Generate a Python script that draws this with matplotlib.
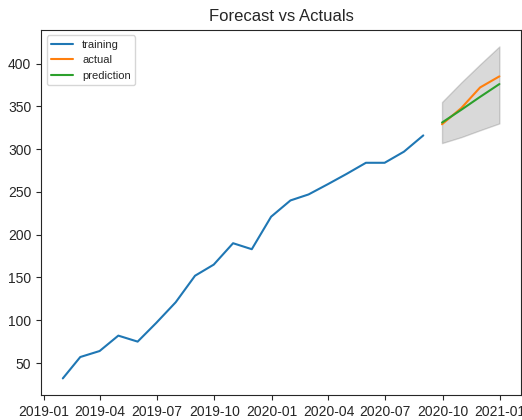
import numpy as np
import pandas as pd
import matplotlib
matplotlib.use("Agg")
import matplotlib.pyplot as plt
import seaborn as sns

sns.set_style("ticks")
plt.rcParams['font.family'] = ['Liberation Sans', 'DejaVu Sans']

# monthly series (month-end dates)
train_dates = pd.date_range("2019-01-31", periods=20, freq="ME")
train_vals = [32, 57, 64, 82, 75, 97, 121, 152, 165, 190,
              183, 221, 240, 247, 259, 271, 284, 284, 297, 316]

test_dates = pd.date_range("2020-09-30", periods=4, freq="ME")
actual_vals = [329, 348, 372, 385]
pred_vals = [331, 346, 361, 376]
lower_ci = [307, 314, 322, 330]
upper_ci = [355, 378, 399, 420]

fig = plt.figure(figsize=(5.22, 4.2), dpi=100)
ax = fig.add_axes([0.0785, 0.0595, 0.92, 0.8695])

ax.plot(train_dates, train_vals, label="training")
ax.plot(test_dates, actual_vals, label="actual")
ax.plot(test_dates, pred_vals, label="prediction")
ax.fill_between(test_dates, lower_ci, upper_ci, color="k", alpha=0.15)

ax.set_title("Forecast vs Actuals", fontsize=12)
ax.legend(loc="upper left", fontsize=8)
ax.tick_params(labelsize=10)

fig.savefig("out.png", dpi=100)
